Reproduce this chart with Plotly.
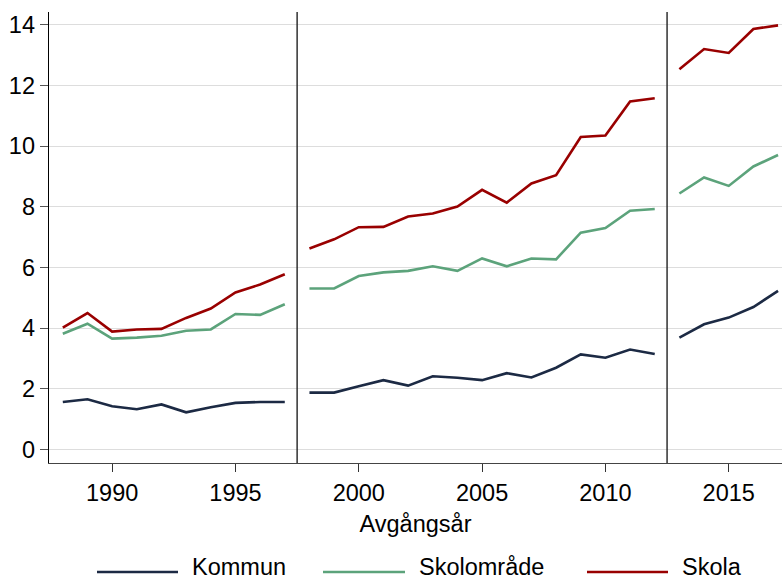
import plotly.graph_objects as go

years = list(range(1988, 2018))
breaks = [1997.5, 2012.5]

kommun = [1.57, 1.66, 1.43, 1.33, 1.49, 1.23, 1.40, 1.54, 1.57, 1.57,
          1.88, 1.88, 2.09, 2.29, 2.11, 2.42, 2.37, 2.29, 2.52, 2.38,
          2.70, 3.14, 3.03, 3.30, 3.15,
          3.69, 4.13, 4.35, 4.70, 5.23]
skolomrade = [3.82, 4.15, 3.66, 3.69, 3.75, 3.92, 3.96, 4.47, 4.44, 4.79,
              5.31, 5.31, 5.72, 5.84, 5.89, 6.04, 5.89, 6.30, 6.04, 6.30,
              6.27, 7.15, 7.30, 7.87, 7.93,
              8.44, 8.97, 8.69, 9.33, 9.71]
skola = [4.02, 4.50, 3.89, 3.96, 3.98, 4.34, 4.65, 5.18, 5.44, 5.78,
         6.63, 6.93, 7.33, 7.34, 7.68, 7.78, 8.01, 8.56, 8.14, 8.77,
         9.04, 10.30, 10.35, 11.47, 11.58,
         12.53, 13.20, 13.07, 13.86, 13.98]

series_names = ["Kommun", "Skolområde", "Skola"]
series_values = [kommun, skolomrade, skola]
series_colors = ["#1c2a44", "#5ca37b", "#990000"]

x_ticks = [1990, 1995, 2000, 2005, 2010, 2015]
y_ticks = [0, 2, 4, 6, 8, 10, 12, 14]

FONT = "Liberation Sans, Arial, sans-serif"


def with_breaks(xs, ys, brk):
    ox, oy = [], []
    for xv, yv in zip(xs, ys):
        if ox and any(ox[-1] is not None and ox[-1] < b < xv for b in brk):
            ox.append(None)
            oy.append(None)
        ox.append(xv)
        oy.append(yv)
    return ox, oy


fig = go.Figure()
for name, vals, col in zip(series_names, series_values, series_colors):
    bx, by = with_breaks(years, vals, breaks)
    fig.add_trace(go.Scatter(x=bx, y=by, mode="lines", name=name,
                             line=dict(color=col, width=2.6),
                             connectgaps=False, showlegend=False))

for b in breaks:
    fig.add_shape(type="line", xref="x", yref="paper", x0=b, x1=b, y0=0, y1=1,
                  line=dict(color="#222222", width=1.4))

# custom legend (paper coords)
L, W, T, H = 49, 733, 12, 451
def px(xp):
    return (xp - L) / W
def py(yp):
    return (T + H - yp) / H

legend_items = [(97, 178, 191), (323, 405, 418), (587, 668, 681)]
leg_y = 572
for (x0, x1, tx), name, col in zip(legend_items, series_names, series_colors):
    fig.add_shape(type="line", xref="paper", yref="paper",
                  x0=px(x0), x1=px(x1), y0=py(leg_y), y1=py(leg_y),
                  line=dict(color=col, width=2.6))
    fig.add_annotation(xref="paper", yref="paper", x=px(tx), y=py(581),
                       text=name, showarrow=False, xanchor="left", yanchor="bottom",
                       borderpad=0,
                       font=dict(family=FONT, size=23.5, color="black"))

fig.update_layout(
    width=782, height=581,
    margin=dict(l=L, r=0, t=T, b=581 - T - H, pad=0, autoexpand=False),
    paper_bgcolor="white", plot_bgcolor="white",
    font=dict(family=FONT, size=23.5, color="black"),
    showlegend=False,
)
fig.update_xaxes(range=[1987.44, 2017.16], tickvals=x_ticks, automargin=False,
                 ticks="outside", ticklen=8, tickcolor="#333333", tickwidth=1,
                 showline=True, linecolor="#444444", linewidth=1.3,
                 showgrid=False, zeroline=False,
                 title=dict(text="Avgångsår", standoff=11,
                            font=dict(family=FONT, size=23.5)),
                 tickfont=dict(family=FONT, size=23.5))
fig.update_yaxes(range=[-0.44, 14.42], tickvals=y_ticks, automargin=False,
                 ticks="outside", ticklen=8, tickcolor="#555555", tickwidth=1,
                 showline=True, linecolor="black", linewidth=1.3,
                 showgrid=True, gridcolor="#dddddd", gridwidth=1,
                 zeroline=False,
                 tickfont=dict(family=FONT, size=23.5))

fig.write_html("out.html",
               config={"displayModeBar": False, "staticPlot": True},
               post_script="document.body.style.margin='0';document.body.style.overflow='hidden';")
